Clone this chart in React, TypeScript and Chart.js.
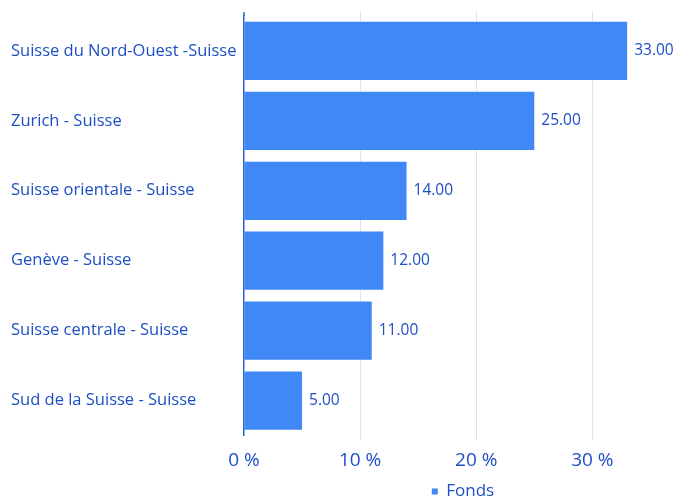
import React, { useEffect, useRef } from "react";
import { Chart, registerables } from "chart.js";

Chart.register(...registerables);

const categories = [
  "Suisse du Nord-Ouest -Suisse",
  "Zurich - Suisse",
  "Suisse orientale - Suisse",
  "Genève - Suisse",
  "Suisse centrale - Suisse",
  "Sud de la Suisse - Suisse",
];
const fondsValues = [33, 25, 14, 12, 11, 5];
const seriesName = "Fonds";
const xTickValues = [0, 10, 20, 30];

const FONT = "'Open Sans', 'Noto Sans', sans-serif";
const TEXT = "#1d4fc4";
const BAR = "#3f88f5";
const GRID = "#d3e4fb";
const AXIS = "#2a5fd3";

const valueLabels = {
  id: "valueLabels",
  afterDatasetsDraw(chart: any) {
    const ctx = chart.ctx;
    const meta = chart.getDatasetMeta(0);
    ctx.save();
    ctx.font = `15.5px ${FONT}`;
    ctx.fillStyle = TEXT;
    ctx.textBaseline = "middle";
    ctx.textAlign = "left";
    meta.data.forEach((bar: any, i: number) => {
      ctx.fillText(fondsValues[i].toFixed(2), bar.x + 7, bar.y);
    });
    ctx.restore();
  },
};

const topExtension = {
  id: "topExtension",
  beforeDatasetsDraw(chart: any) {
    const { ctx, chartArea, scales } = chart;
    const ext = 4;
    ctx.save();
    xTickValues.forEach((v) => {
      const x = Math.round(scales.x.getPixelForValue(v)) + 0.5;
      ctx.strokeStyle = v === 0 ? AXIS : GRID;
      ctx.lineWidth = v === 0 ? 1.5 : 1;
      ctx.beginPath();
      ctx.moveTo(v === 0 ? chartArea.left : x, chartArea.top - ext);
      ctx.lineTo(v === 0 ? chartArea.left : x, chartArea.top);
      ctx.stroke();
    });
    ctx.restore();
  },
};

const legendShift = {
  id: "legendShift",
  afterLayout(chart: any) {
    const lg = chart.legend;
    if (lg && chart.chartArea) {
      lg.left = chart.chartArea.left + 6;
      lg.right = chart.width;
    }
  },
};

export default function App() {
  const ref = useRef<HTMLCanvasElement>(null);
  useEffect(() => {
    document.body.style.margin = "0";
    const chart = new Chart(ref.current!, {
      type: "bar",
      data: {
        labels: categories,
        datasets: [
          {
            label: seriesName,
            data: fondsValues,
            backgroundColor: BAR,
            borderWidth: 0,
            barPercentage: 0.833,
            categoryPercentage: 1,
          },
        ],
      },
      options: {
        indexAxis: "y",
        animation: false,
        responsive: false,
        layout: { padding: { left: 11, right: 14, top: 16, bottom: -10 } },
        plugins: {
          legend: {
            position: "bottom",
            labels: {
              boxWidth: 6,
              boxHeight: 6,
              color: TEXT,
              font: { family: FONT, size: 17 },
              padding: 1.5,
            },
          },
          tooltip: { enabled: false },
        },
        scales: {
          x: {
            min: 0,
            max: 36,
            afterBuildTicks(axis: any) {
              axis.ticks = xTickValues.map((v) => ({ value: v }));
            },
            afterFit(axis: any) {
              axis.height = 46;
            },
            ticks: {
              color: TEXT,
              font: { family: FONT, size: 19 },
              padding: 10,
              callback: (v: any) => `${v} %`,
            },
            grid: {
              color: (c: any) => (c.tick && c.tick.value === 0 ? "rgba(0,0,0,0)" : GRID),
              tickLength: 4,
            },
            border: { display: false },
          },
          y: {
            afterFit(axis: any) {
              axis.width = 233;
            },
            ticks: {
              color: TEXT,
              font: { family: FONT, size: 16.5 },
              crossAlign: "far",
            },
            grid: { display: false },
            border: { display: true, color: AXIS, width: 1.5 },
          },
        },
      },
      plugins: [valueLabels, topExtension, legendShift],
    });
    return () => chart.destroy();
  }, []);
  return (
    <div style={{ position: "absolute", left: 0, top: 0, width: 676, height: 500 }}>
      <canvas ref={ref} width={676} height={500} />
    </div>
  );
}
